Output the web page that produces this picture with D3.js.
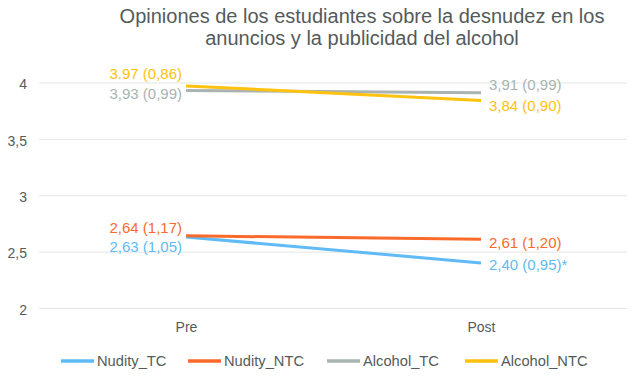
<!DOCTYPE html>
<html><head><meta charset="utf-8">
<script src="https://cdn.jsdelivr.net/npm/d3@7"></script>
<style>
html,body{margin:0;padding:0;background:#fff;}
svg text{font-family:"Liberation Sans",Arial,sans-serif;}
</style></head>
<body><svg id="c" width="641" height="379"></svg>
<script>
const categories = ["Pre", "Post"];
const seriesNames = ["Nudity_TC", "Nudity_NTC", "Alcohol_TC", "Alcohol_NTC"];
const nudityTC = [2.63, 2.40];
const nudityNTC = [2.64, 2.61];
const alcoholTC = [3.93, 3.91];
const alcoholNTC = [3.97, 3.84];
const nudityTCLabels = ["2,63 (1,05)", "2,40 (0,95)*"];
const nudityNTCLabels = ["2,64 (1,17)", "2,61 (1,20)"];
const alcoholTCLabels = ["3,93 (0,99)", "3,91 (0,99)"];
const alcoholNTCLabels = ["3.97 (0,86)", "3,84 (0,90)"];
const yTicks = [2, 2.5, 3, 3.5, 4];
const yTickLabels = ["2", "2,5", "3", "3,5", "4"];
const titleLines = ["Opiniones de los estudiantes sobre la desnudez en los", "anuncios y la publicidad del alcohol"];

const colors = ["#5FBAF5", "#FA6A2A", "#A9B3B1", "#FFC20E"];
// label vertical offsets (layout, px) per series per category
const labelDy = [[10, 2], [-8, 4], [3, -8], [-12, 5]];

const series = [
  {name: seriesNames[0], values: nudityTC, labels: nudityTCLabels, color: colors[0], dy: labelDy[0]},
  {name: seriesNames[1], values: nudityNTC, labels: nudityNTCLabels, color: colors[1], dy: labelDy[1]},
  {name: seriesNames[2], values: alcoholTC, labels: alcoholTCLabels, color: colors[2], dy: labelDy[2]},
  {name: seriesNames[3], values: alcoholNTC, labels: alcoholNTCLabels, color: colors[3], dy: labelDy[3]}
];

const svg = d3.select("#c");
const textColor = "#545B5B";
const x = d3.scalePoint().domain(categories).range([38.5, 628.5]).padding(0.5);
const y = d3.scaleLinear().domain([2, 4]).range([308, 82.5]);

// title
svg.append("g").selectAll("text").data(titleLines).join("text")
  .attr("x", 362).attr("y", (d, i) => 22.5 + i * 22.5)
  .attr("text-anchor", "middle").attr("font-size", 20).attr("fill", textColor)
  .text(d => d);

// gridlines + y labels
const yAxis = d3.axisLeft(y).tickValues(yTicks).tickFormat((d, i) => yTickLabels[i]).tickSize(-(627 - 39)).tickPadding(12);
const gy = svg.append("g").attr("transform", "translate(39,0)").call(yAxis);
gy.select(".domain").remove();
gy.selectAll(".tick line").attr("stroke", "#E3E6E6").attr("stroke-width", 1);
gy.selectAll(".tick text").attr("font-size", 14).attr("fill", textColor)
  .attr("font-family", "Liberation Sans, Arial, sans-serif").attr("dy", "0.45em");

// x axis labels
const xAxis = d3.axisBottom(x).tickSize(0).tickPadding(14);
const gx = svg.append("g").attr("transform", "translate(0,308)").call(xAxis);
gx.select(".domain").remove();
gx.selectAll(".tick text").attr("font-size", 14).attr("fill", textColor).attr("font-family", "Liberation Sans, Arial, sans-serif");

// lines
const line = d3.line().x((d, i) => x(categories[i])).y(d => y(d));
svg.append("g").selectAll("path").data(series).join("path")
  .attr("d", s => line(s.values)).attr("fill", "none")
  .attr("stroke", s => s.color).attr("stroke-width", 3).attr("stroke-linecap", "butt");

// value labels
const lg = svg.append("g");
series.forEach(s => {
  s.values.forEach((v, i) => {
    const pre = i === 0;
    lg.append("text")
      .attr("x", x(categories[i]) + (pre ? -4 : 8))
      .attr("y", y(v) + s.dy[i])
      .attr("dy", "0.35em")
      .attr("text-anchor", pre ? "end" : "start")
      .attr("font-size", 15).attr("fill", s.color)
      .text(s.labels[i]);
  });
});

// legend
const legendX = [61, 188, 327, 465];
const leg = svg.append("g");
series.forEach((s, i) => {
  const g = leg.append("g").attr("transform", `translate(${legendX[i]},361)`);
  g.append("line").attr("x1", 0).attr("x2", 33).attr("y1", 0).attr("y2", 0)
    .attr("stroke", s.color).attr("stroke-width", 3.5);
  g.append("text").attr("x", 36).attr("y", 0).attr("dy", "0.36em")
    .attr("font-size", 14.7).attr("fill", textColor).text(s.name);
});
</script></body></html>
